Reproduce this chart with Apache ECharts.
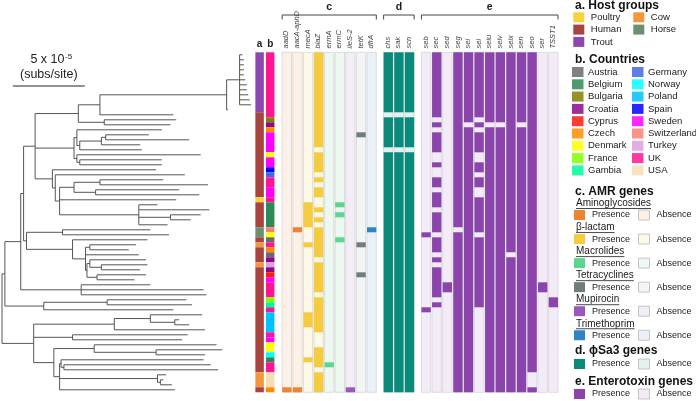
<!DOCTYPE html>
<html>
<head>
<meta charset="utf-8">
<script src="https://cdn.jsdelivr.net/npm/echarts@6/dist/echarts.min.js"></script>
<style>html,body{margin:0;padding:0;background:#fff}#main{width:696px;height:401px}</style>
</head>
<body>
<div id="main"></div>
<script>
// ---- data ----
// tree: [nodeDepth, child, child, ...], leaf = tip depth (units of 1e-6 subs/site), leaves top -> bottom
var tree = [0,
  [2,
    [13,
      [15,
        [23,
          [53,
            [68, [156, [165, 167, 168, 168, 168, 168, 169, 170, 170, 171, 172, 173], 157], 119],
            [71, 121, 117]],
          [50,
            [52, 111, [54, [69, [72, 102, 130], 96], 97]],
            [52, 138, [54, 111, 111]]],
          [35, 107, [37, 127, [40, [50, [68, 112, 143], [65, 123, 137]], 121, [95, 108, 144, [117, 138, 131], 115]]]]],
        [17,
          [42, 103, 116],
          [49, 101, [58, [61, 93, 88], 95, [59, [61, 100, [69, 101, 96]], [66, 100, 92]]]]]],
      [55, 103, 140, 142]],
    [29, [73, 128, 132], 119]],
  [22,
    [78, [103, 139, [120, 123, 130]], 141],
    [49, 129, 125],
    [36, [64, 149, [107, 153, 141]], [40, [41, 140, [43, 145, 150]], [108, 114, [110, 112, 118]], 120]]]
];

// column a / b as runs of rows (top -> bottom)
var hostRuns = [['Trout', 12], ['Human', 17], ['Poultry', 1], ['Human', 5], ['Horse', 2], ['Human', 1],
  ['Cow', 1], ['Human', 3], ['Cow', 1], ['Human', 21], ['Cow', 3], ['Human', 1]];
var countryRuns = [['UK', 13], ['Bulgaria', 1], ['Croatia', 1], ['Czech', 1], ['Sweden', 4], ['Denmark', 1],
  ['Sweden', 2], ['Spain', 1], ['Germany', 1], ['UK', 2], ['Sweden', 2], ['UK', 1], ['Belgium', 5],
  ['Switzerland', 1], ['Denmark', 1], ['Austria', 1], ['UK', 1], ['Czech', 1], ['Austria', 1], ['Croatia', 1],
  ['Turkey', 1], ['Croatia', 1], ['Cyprus', 1], ['Sweden', 1], ['UK', 3], ['France', 1], ['Gambia', 1], ['UK', 1],
  ['Poland', 4], ['UK', 1], ['Sweden', 1], ['Denmark', 2], ['Norway', 1], ['Belgium', 1], ['UK', 2], ['USA', 3], ['Czech', 1]];

var amrGenes = ['aadD', 'aacA-aphD', 'mecA', 'blaZ', 'ermA', 'ermC', 'ileS-2', 'tetK', 'dfrA'];
var phiGenes = ['chs', 'sak', 'scn'];
var enteroGenes = ['seb', 'sec', 'sed', 'seg', 'sei', 'sel', 'selu', 'selv', 'selx', 'sen', 'seo', 'ser', 'TSST1'];

var geneClass = {
  'aadD': 'Aminoglycosides', 'aacA-aphD': 'Aminoglycosides', 'mecA': 'β-lactam', 'blaZ': 'β-lactam',
  'ermA': 'Macrolides', 'ermC': 'Macrolides', 'ileS-2': 'Mupirocin', 'tetK': 'Tetracyclines', 'dfrA': 'Trimethoprim'
};

// rows where the gene is present
var presence = {
  'aadD': '67', 'aacA-aphD': '35,67', 'mecA': '30-34,38,52-54,61',
  'blaZ': '0-18,20-23,25,27-28,31,33,35-40,42-47,49-55,59-62,64-67',
  'ermA': '62', 'ermC': '30,32,37', 'ileS-2': '67', 'tetK': '16,38,44', 'dfrA': '35',
  'chs': '0-11,13-18,20-67', 'sak': '0-11,13-18,20-67', 'scn': '0-11,13-18,20-67',
  'seb': '36,51', 'sec': '0-12,14,16-19,22,25-26,28-30,32-35,37-39,41,43-48,50', 'sed': '46-47',
  'seg': '0-34,36-67', 'sei': '0-13,15-67', 'sel': '0-12,14,16-19,22-23,25-26,29-35,37-50',
  'selu': '0-13,15-67', 'selv': '0-13,15-67', 'selx': '0-39,41-67', 'sen': '0-13,15-67',
  'seo': '0-63,67', 'ser': '46-47', 'TSST1': '49-50'
};

var hostLegend = [['Poultry', 'Human', 'Trout'], ['Cow', 'Horse']];
var countryLegend = [['Austria', 'Belgium', 'Bulgaria', 'Croatia', 'Cyprus', 'Czech', 'Denmark', 'France', 'Gambia'],
  ['Germany', 'Norway', 'Poland', 'Spain', 'Sweden', 'Switzerland', 'Turkey', 'UK', 'USA']];
var amrClasses = ['Aminoglycosides', 'β-lactam', 'Macrolides', 'Tetracyclines', 'Mupirocin', 'Trimethoprim'];

// ---- colours ----
var hostColor = {Poultry: '#f6d23c', Human: '#a8433f', Trout: '#8d47b0', Cow: '#f4963c', Horse: '#6e906f'};
var countryColor = {
  Austria: '#6b6b6b', Belgium: '#2e8b57', Bulgaria: '#808000', Croatia: '#8b0a8b', Cyprus: '#ff1a0f',
  Czech: '#ff8c00', Denmark: '#ffff00', France: '#7fff00', Gambia: '#00fa9a', Germany: '#4169e1',
  Norway: '#00ffff', Poland: '#00bfff', Spain: '#0000ff', Sweden: '#ff00ff', Switzerland: '#fa8072',
  Turkey: '#dda0dd', UK: '#ff1493', USA: '#f5deb3'
};
var classColor = {
  'Aminoglycosides': ['#ec8431', '#fdf1e7'], 'β-lactam': ['#f5cb40', '#fef9e6'],
  'Macrolides': ['#5cd68e', '#ecf8f0'], 'Tetracyclines': ['#717d7d', '#f3f4f4'],
  'Mupirocin': ['#9a58bf', '#f3edf8'], 'Trimethoprim': ['#2e85c2', '#ebf1f8'],
  'ϕSa3': ['#0a8a7a', '#e3f2ef'], 'Enterotoxin': ['#8b44ac', '#f3ecf8']
};
var FONT = 'Liberation Sans, Arial, Helvetica, sans-serif';

// ---- tree layout ----
var segs = [];
var leafRow = 0;
function walk(node) {
  if (typeof node === 'number') return {x: node, y: leafRow++};
  var x = node[0];
  var kids = node.slice(1).map(walk);
  var y = (kids[0].y + kids[kids.length - 1].y) / 2;
  segs.push([x, kids[0].y, x, kids[kids.length - 1].y]);
  kids.forEach(function (k) { segs.push([x, k.y, k.x, k.y]); });
  return {x: x, y: y};
}
walk(tree);
var NROW = leafRow;

// ---- columns ----
var GAP = 0.57;
var cols = [{name: 'a', kind: 'host', pos: 0}, {name: 'b', kind: 'country', pos: 1}];
var groups = [{key: 'c', genes: amrGenes}, {key: 'd', genes: phiGenes}, {key: 'e', genes: enteroGenes}];
var p = 1;
groups.forEach(function (g) {
  p += GAP;
  g.first = p + 1;
  g.genes.forEach(function (n) {
    p += 1;
    var cls = geneClass[n] || (g.key === 'd' ? 'ϕSa3' : 'Enterotoxin');
    cols.push({name: n, kind: 'gene', pos: p, cls: cls});
  });
  g.last = p;
});

function parseRanges(s) {
  return s.split(',').map(function (t) {
    var a = t.split('-');
    return [+a[0], +(a[1] || a[0])];
  });
}

var bgData = [], cellData = [];
cols.forEach(function (c) {
  if (c.kind === 'host' || c.kind === 'country') {
    var runs = c.kind === 'host' ? hostRuns : countryRuns;
    var cmap = c.kind === 'host' ? hostColor : countryColor;
    var r = 0;
    runs.forEach(function (run) {
      cellData.push({value: [c.pos, r, r + run[1] - 1, 0.8], itemStyle: {color: cmap[run[0]]}});
      r += run[1];
    });
  } else {
    bgData.push({value: [c.pos, 0, NROW - 1, 0.88], itemStyle: {color: classColor[c.cls][1]}});
    parseRanges(presence[c.name]).forEach(function (rg) {
      cellData.push({value: [c.pos, rg[0], rg[1], 0.88], itemStyle: {color: classColor[c.cls][0]}});
    });
  }
});

function cellRender(stroke) {
  return function (params, api) {
    var tl = api.coord([api.value(0), api.value(1) - 0.5]);
    var br = api.coord([api.value(0), api.value(2) + 0.5]);
    var half = api.size([api.value(3), 0])[0] / 2;
    return {
      type: 'rect',
      shape: {x: tl[0] - half, y: tl[1], width: half * 2, height: br[1] - tl[1]},
      style: {fill: api.visual('color'), stroke: stroke, lineWidth: stroke ? 0.8 : 0}
    };
  };
}

var PITCH = 10.6;
var xMax = p + 0.5;
var option = {
  animation: false,
  textStyle: {fontFamily: FONT},
  grid: [
    {left: 2, top: 52.3, width: 252, height: 340},
    {left: 259.6 - PITCH / 2, top: 52.3, width: (xMax + 0.5) * PITCH, height: 340}
  ],
  xAxis: [
    {type: 'value', gridIndex: 0, min: 0, max: 175, show: false},
    {type: 'value', gridIndex: 1, min: -0.5, max: xMax, show: false}
  ],
  yAxis: [
    {type: 'value', gridIndex: 0, min: -0.5, max: NROW - 0.5, inverse: true, show: false},
    {type: 'value', gridIndex: 1, min: -0.5, max: NROW - 0.5, inverse: true, show: false}
  ],
  series: [
    {
      type: 'custom', xAxisIndex: 0, yAxisIndex: 0, data: segs, silent: true,
      encode: {x: [0, 2], y: [1, 3]},
      renderItem: function (params, api) {
        var a = api.coord([api.value(0), api.value(1)]);
        var b = api.coord([api.value(2), api.value(3)]);
        return {type: 'line', shape: {x1: a[0], y1: a[1], x2: b[0], y2: b[1]},
          style: {stroke: '#555', lineWidth: 1}};
      }
    },
    {type: 'custom', xAxisIndex: 1, yAxisIndex: 1, data: bgData, silent: true, renderItem: cellRender('#d4d4d4')},
    {type: 'custom', xAxisIndex: 1, yAxisIndex: 1, data: cellData, silent: true, renderItem: cellRender(null)}
  ]
};

var chart = echarts.init(document.getElementById('main'));
chart.setOption(option);

// ---- annotations: headers, brackets, scale bar, key ----
var measure = document.createElement('canvas').getContext('2d');
function textWidth(t, size) { measure.font = size + 'px ' + 'Liberation Sans'; return measure.measureText(t).width; }
function txt(x, y, t, o) {
  var s = {text: t, fontFamily: FONT, fontSize: 9.5, fill: '#1a1a1a', align: 'left', verticalAlign: 'middle',
    textAlign: 'left', textVerticalAlign: 'middle'};
  for (var k in o || {}) s[k] = o[k];
  if (s.align) s.textAlign = s.align;
  return {type: 'text', x: x, y: y, silent: true, style: s};
}
function box(x, y, fill, border) {
  return {type: 'rect', silent: true, shape: {x: x, y: y - 5, width: 11, height: 10},
    style: {fill: fill, stroke: border ? '#b8b8b8' : null, lineWidth: 0.8}};
}
var g = [];
function px(pos) { return chart.convertToPixel({xAxisIndex: 1}, pos); }

cols.forEach(function (c) {
  var x = px(c.pos);
  if (c.kind === 'gene') {
    g.push({type: 'text', x: x - 0.5, y: 48.5, rotation: Math.PI / 2, silent: true,
      style: {text: c.name, fontFamily: FONT, fontSize: 7.5, fontStyle: 'italic', fill: '#444',
        align: 'left', verticalAlign: 'middle', textAlign: 'left', textVerticalAlign: 'middle'}});
  } else {
    g.push(txt(x, 44.5, c.name, {fontSize: 10, fontWeight: 'bold', align: 'center'}));
  }
});
groups.forEach(function (gr) {
  var x0 = px(gr.first) - 0.44 * PITCH, x1 = px(gr.last) + 0.44 * PITCH;
  g.push({type: 'polyline', silent: true, shape: {points: [[x0, 19.5], [x0, 15], [x1, 15], [x1, 19.5]]},
    style: {stroke: '#444', lineWidth: 1, fill: null}});
  g.push(txt((x0 + x1) / 2, 7.5, gr.key, {fontSize: 10.5, fontWeight: 'bold', align: 'center'}));
});

// scale bar: 5e-5 subs/site = 50 units on the tree axis
var sx0 = chart.convertToPixel({xAxisIndex: 0}, 7.5), sx1 = chart.convertToPixel({xAxisIndex: 0}, 57.5);
g.push({type: 'line', silent: true, shape: {x1: sx0, y1: 86, x2: sx1, y2: 86}, style: {stroke: '#222', lineWidth: 1}});
g.push(txt(64.5, 60, '5 x 10', {fontSize: 12.5, align: 'right', fill: '#222'}));
g.push(txt(65, 56.5, '-5', {fontSize: 8, fill: '#222'}));
g.push(txt((sx0 + sx1) / 2, 75, '(subs/site)', {fontSize: 12.5, align: 'center', fill: '#222'}));

// key
var HB = {fontSize: 12, fontWeight: 'bold', fill: '#111'};
g.push(txt(575, 6, 'a. Host groups', HB));
hostLegend.forEach(function (colItems, ci) {
  colItems.forEach(function (n, i) {
    var y = 17.3 + i * 12.3, x = ci ? 633.3 : 573.3;
    g.push(box(x, y, hostColor[n]));
    g.push(txt(x + 17.5, y, n));
  });
});
g.push(txt(575, 60, 'b. Countries', HB));
countryLegend.forEach(function (colItems, ci) {
  colItems.forEach(function (n, i) {
    var y = 72 + i * 12.3, x = ci ? 632 : 572;
    g.push({type: 'rect', silent: true, shape: {x: x, y: y - 5, width: 11.5, height: 10},
      style: {fill: countryColor[n], opacity: 0.85}});
    g.push(txt(x + 16, y, n));
  });
});
g.push(txt(575, 191.5, 'c. AMR genes', HB));
function presAbs(y, cls) {
  g.push(box(574, y, classColor[cls][0]));
  g.push(txt(592, y, 'Presence', {fontSize: 9}));
  g.push(box(638.5, y, classColor[cls][1], true));
  g.push(txt(656.5, y, 'Absence', {fontSize: 9}));
}
amrClasses.forEach(function (cls, i) {
  var y = 203.5 + i * 24.05;
  g.push(txt(576, y, cls, {fontSize: 10}));
  var w = textWidth(cls, 10);
  g.push({type: 'line', silent: true, shape: {x1: 576, y1: y + 5, x2: 576 + w, y2: y + 5}, style: {stroke: '#1a1a1a', lineWidth: 0.8}});
  presAbs(y + 11.5, cls);
});
g.push(txt(575, 351, 'd. ϕSa3 genes', HB));
presAbs(364, 'ϕSa3');
g.push(txt(575, 381.5, 'e. Enterotoxin genes', HB));
presAbs(394, 'Enterotoxin');

chart.setOption({graphic: {elements: g}});
</script>
</body>
</html>
